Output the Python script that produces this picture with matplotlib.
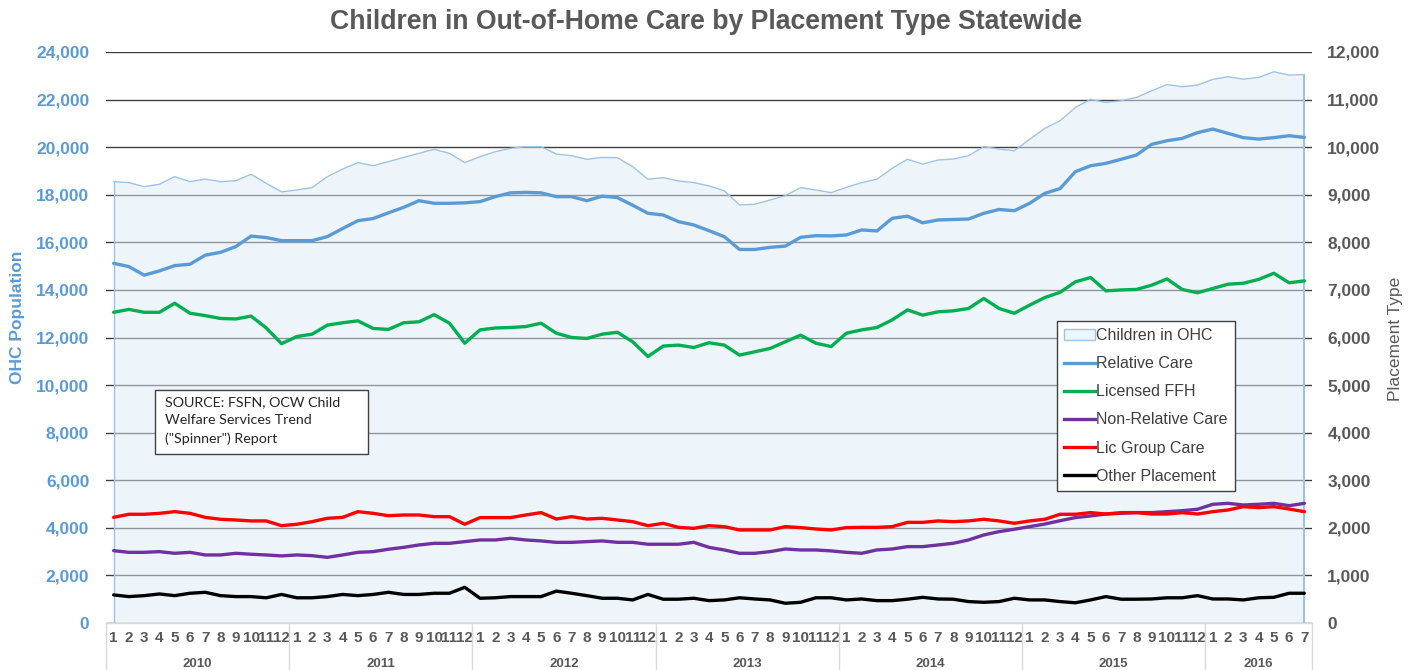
import numpy as np
import matplotlib
matplotlib.use("Agg")
import matplotlib.pyplot as plt
from matplotlib.lines import Line2D
from matplotlib.patches import Patch, Rectangle
from matplotlib.ticker import FuncFormatter

plt.rcParams['font.family'] = ['Liberation Sans', 'DejaVu Sans']

# ---------------- data ----------------
years = [2010, 2011, 2012, 2013, 2014, 2015, 2016]
months_per_year = [12, 12, 12, 12, 12, 12, 7]

children_ohc = [18550, 18510, 18340, 18440, 18760, 18550, 18660, 18550, 18590, 18860, 18480, 18120,
                18200, 18300, 18760, 19080, 19350, 19220, 19390, 19570, 19740, 19910, 19740, 19350,
                19600, 19810, 19950, 20020, 20020, 19710, 19640, 19490, 19570, 19560, 19180, 18650,
                18720, 18580, 18510, 18370, 18170, 17570, 17600, 17780, 17960, 18300, 18200, 18090,
                18310, 18510, 18650, 19110, 19490, 19290, 19460, 19500, 19640, 20020, 19920, 19850,
                20330, 20790, 21110, 21670, 22010, 21880, 21950, 22090, 22370, 22630, 22540, 22610,
                22850, 22960, 22860, 22930, 23170, 23030, 23050]

relative_care = [7560, 7490, 7310, 7400, 7510, 7540, 7730, 7790, 7910, 8130, 8100, 8035,
                 8035, 8035, 8120, 8290, 8455, 8500, 8620, 8735, 8875, 8820, 8820, 8830,
                 8855, 8960, 9040, 9050, 9040, 8960, 8960, 8875, 8970, 8940, 8780, 8610,
                 8575, 8435, 8365, 8245, 8120, 7850, 7850, 7895, 7920, 8105, 8140, 8135,
                 8155, 8260, 8240, 8505, 8550, 8410, 8470, 8480, 8490, 8610, 8690, 8665,
                 8820, 9030, 9130, 9485, 9610, 9660, 9745, 9835, 10060, 10135, 10185, 10305,
                 10380, 10290, 10200, 10170, 10200, 10240, 10205]

licensed_ffh = [6530, 6590, 6530, 6530, 6720, 6510, 6460, 6400, 6390, 6450, 6200, 5870,
                6020, 6070, 6260, 6310, 6350, 6190, 6170, 6310, 6330, 6480, 6300, 5880,
                6160, 6200, 6210, 6230, 6300, 6090, 6000, 5980, 6070, 6110, 5910, 5600,
                5820, 5840, 5790, 5890, 5840, 5630, 5700, 5770, 5910, 6050, 5880, 5810,
                6090, 6160, 6210, 6370, 6580, 6470, 6540, 6560, 6610, 6820, 6610, 6510,
                6680, 6840, 6950, 7170, 7260, 6980, 7000, 7010, 7100, 7230, 7010, 6940,
                7030, 7120, 7140, 7220, 7350, 7150, 7190]

non_relative_care = [1520, 1485, 1485, 1500, 1465, 1485, 1430, 1430, 1465, 1445, 1430, 1410,
                     1430, 1415, 1380, 1430, 1485, 1500, 1550, 1590, 1640, 1675, 1675, 1710,
                     1745, 1745, 1780, 1745, 1725, 1695, 1695, 1710, 1725, 1695, 1695, 1655,
                     1655, 1655, 1695, 1590, 1535, 1465, 1465, 1500, 1555, 1535, 1535, 1515,
                     1485, 1465, 1535, 1555, 1605, 1605, 1640, 1675, 1745, 1850, 1920, 1970,
                     2025, 2080, 2150, 2215, 2250, 2290, 2305, 2320, 2320, 2340, 2360, 2390,
                     2495, 2515, 2480, 2495, 2515, 2465, 2515]

lic_group_care = [2220, 2285, 2285, 2305, 2340, 2305, 2220, 2180, 2165, 2145, 2145, 2045,
                  2075, 2130, 2200, 2220, 2340, 2305, 2255, 2270, 2270, 2235, 2235, 2075,
                  2215, 2215, 2215, 2270, 2320, 2185, 2235, 2185, 2200, 2165, 2130, 2045,
                  2095, 2010, 1990, 2045, 2025, 1955, 1955, 1955, 2025, 2005, 1975, 1955,
                  2005, 2010, 2010, 2025, 2115, 2115, 2145, 2130, 2145, 2180, 2145, 2095,
                  2145, 2180, 2285, 2285, 2320, 2290, 2320, 2320, 2290, 2290, 2320, 2290,
                  2340, 2375, 2445, 2425, 2445, 2395, 2340]

other_placement = [590, 555, 575, 610, 575, 625, 645, 575, 555, 555, 530, 600,
                   530, 530, 555, 600, 575, 600, 645, 600, 600, 625, 625, 750,
                   520, 530, 555, 555, 555, 670, 625, 575, 520, 520, 485, 600,
                   500, 500, 520, 470, 485, 530, 505, 485, 415, 435, 530, 530,
                   485, 505, 470, 470, 500, 540, 505, 500, 450, 435, 450, 520,
                   485, 485, 450, 425, 485, 555, 500, 500, 505, 530, 530, 575,
                   505, 505, 485, 530, 540, 625, 625]

month_labels = []
for n in months_per_year:
    month_labels += [str(m) for m in range(1, n + 1)]

# ---------------- figure ----------------
W, H = 1419, 670
fig = plt.figure(figsize=(W / 100, H / 100), dpi=100)
L, R, T, B = 106, 1312, 52, 623
ax = fig.add_axes([L / W, (H - B) / H, (R - L) / W, (B - T) / H])

x = np.arange(len(children_ohc))
ax.set_xlim(-0.5, len(x) - 0.5)
ax.set_ylim(0, 24000)
ax.set_yticks(np.arange(0, 24001, 2000))
ax.yaxis.set_major_formatter(FuncFormatter(lambda v, p: f"{v:,.0f}"))
ax.grid(axis='y', color='#3F3F3F', lw=1.0, zorder=0)
ax.set_axisbelow(True)

# area
ax.fill_between(x, children_ohc, 0, color='#DDEBF7', alpha=0.5, lw=0, zorder=2)
ax.plot(x, children_ohc, color='#9DC3E6', lw=1.0, zorder=3)
ax.plot([x[0], x[0]], [0, children_ohc[0]], color='#9DC3E6', lw=1.0, zorder=3)
ax.plot([x[-1], x[-1]], [0, children_ohc[-1]], color='#9DC3E6', lw=1.5, zorder=3)

for s in ['top', 'left', 'right']:
    ax.spines[s].set_visible(False)
ax.spines['bottom'].set_color('#D9D9D9')
ax.spines['bottom'].set_linewidth(1.0)

ax.tick_params(axis='y', length=0, pad=12, labelcolor='#5B9BD5', labelsize=12.5)
for t in ax.get_yticklabels():
    t.set_fontweight('bold')
ax.set_ylabel('OHC Population', color='#5B9BD5', fontsize=12.5, fontweight='bold')
ax.yaxis.set_label_coords(-(L - 25) / (R - L), 1 - (317 - T) / (B - T))

ax.set_xticks(x)
ax.set_xticklabels(month_labels, fontsize=11, fontweight='bold', color='#595959')
ax.tick_params(axis='x', length=0, pad=6)

# year separators and labels
trans = ax.get_xaxis_transform()
ext = -(H - B) / (B - T)
bounds = [-0.5]
for n in months_per_year:
    bounds.append(bounds[-1] + n)
for b in bounds:
    ax.plot([b, b], [0, ext], transform=trans, color='#D9D9D9', lw=1.0, clip_on=False)
for i, yr in enumerate(years):
    ax.text((bounds[i] + bounds[i + 1]) / 2, -(664 - B) / (B - T), str(yr), transform=trans,
            ha='center', va='center', fontsize=9.5, fontweight='bold', color='#595959')

# right axis
ax2 = ax.twinx()
ax2.set_ylim(0, 12000)
ax2.set_yticks(np.arange(0, 12001, 1000))
ax2.yaxis.set_major_formatter(FuncFormatter(lambda v, p: f"{v:,.0f}"))
for s in ['top', 'left', 'right', 'bottom']:
    ax2.spines[s].set_visible(False)
ax2.tick_params(axis='y', length=0, pad=11, labelcolor='#595959', labelsize=12.5)
for t in ax2.get_yticklabels():
    t.set_fontweight('bold')
ax2.set_ylabel('Placement Type', color='#595959', fontsize=12.5)
ax2.yaxis.set_label_coords(1 + (1388 - R) / (R - L), 1 - (339 - T) / (B - T))

series = [
    ('Relative Care', relative_care, '#5B9BD5'),
    ('Licensed FFH', licensed_ffh, '#00B050'),
    ('Non-Relative Care', non_relative_care, '#7030A0'),
    ('Lic Group Care', lic_group_care, '#FF0000'),
    ('Other Placement', other_placement, '#000000'),
]
handles = [Patch(facecolor='#EEF5FB', edgecolor='#9DC3E6', lw=1.0, label='Children in OHC')]
for name, vals, col in series:
    ax2.plot(x, vals, color=col, lw=2.4, solid_joinstyle='round', solid_capstyle='round')
    handles.append(Line2D([0], [0], color=col, lw=2.4, label=name))

# legend
lx0, ly0 = 1057, 321
leg = fig.legend(handles=handles, loc='upper left',
                 bbox_to_anchor=(lx0 / W, 1 - ly0 / H), bbox_transform=fig.transFigure,
                 frameon=True, fancybox=False, edgecolor='#404040', framealpha=1,
                 fontsize=11.5, handlelength=1.9, handleheight=0.6, handletextpad=0.12,
                 labelspacing=0.82, borderpad=0.45, borderaxespad=0)
leg.get_frame().set_linewidth(1.0)
for t in leg.get_texts():
    t.set_color('#404040')

# source box
fig.add_artist(Rectangle((155 / W, 1 - 454 / H), (368 - 155) / W, (454 - 390) / H,
                         transform=fig.transFigure, facecolor='white', edgecolor='#404040',
                         lw=1.0, zorder=5))
fig.text(165 / W, 1 - 396 / H, 'SOURCE: FSFN, OCW Child\nWelfare Services Trend\n("Spinner") Report',
         ha='left', va='top', fontsize=10.3, color='#262626', family='Lato', linespacing=1.62,
         zorder=6)

fig.suptitle('Children in Out-of-Home Care by Placement Type Statewide', x=706 / W, y=1 - 22 / H,
             va='center', fontsize=19.2, fontweight='bold', color='#595959')

fig.savefig('out.png', dpi=100)
